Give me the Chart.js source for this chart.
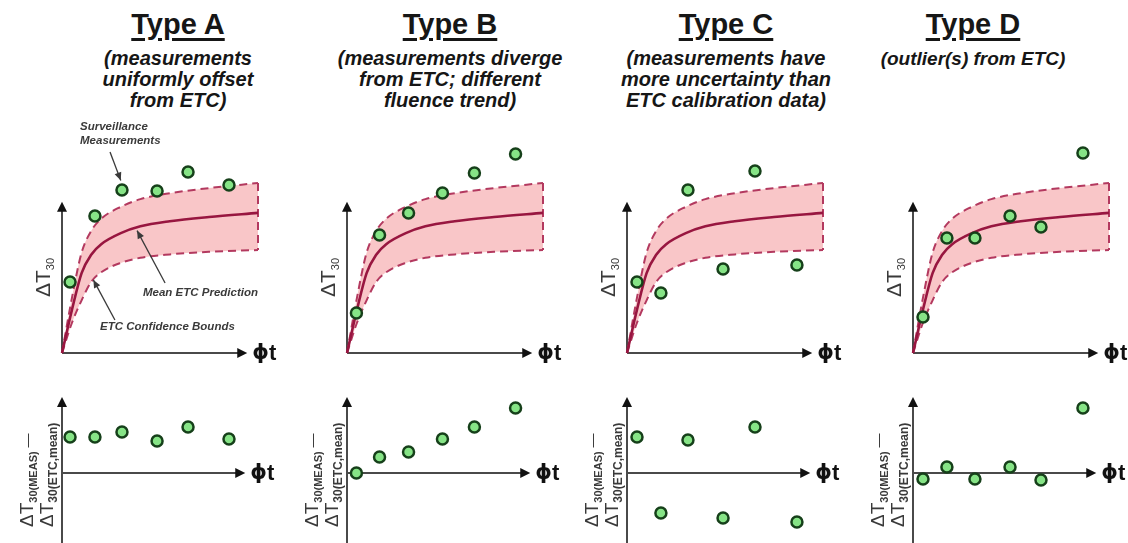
<!DOCTYPE html>
<html>
<head>
<meta charset="utf-8">
<script src="https://cdn.jsdelivr.net/npm/chart.js@4.4.1/dist/chart.umd.min.js"></script>
<style>
  html, body { margin: 0; padding: 0; background: #fff; }
  #wrap { position: relative; width: 1128px; height: 543px; overflow: hidden; font-family: "Liberation Sans", Arial, sans-serif; }
  canvas { position: absolute; }
  .head { position: absolute; width: 300px; text-align: center; color: #161616; }
  .head .t { font-weight: bold; font-size: 29px; line-height: 34px; text-decoration: underline; text-decoration-thickness: 3px; text-underline-offset: 4px; }
  .head .s { font-weight: bold; font-style: italic; font-size: 20px; line-height: 21px; margin-top: 7px; }
  .head .s.short { font-size: 19px; }
</style>
</head>
<body>
<div id="wrap"></div>
<script>
// ETC curve (shared by all four panels), x in fluence units, y in ΔT30 units
var etcX     = [0, 0.5, 1, 1.5, 2, 3, 4, 5.5, 7.5, 10];
var etcUpper = [0, 3.2, 5.9, 7.2, 7.9, 8.6, 9.05, 9.4, 9.7, 10];
var etcMean  = [0, 2.5, 4.7, 5.8, 6.4, 7.05, 7.45, 7.75, 8.0, 8.24];
var etcLower = [0, 1.75, 3.1, 4.2, 4.75, 5.3, 5.6, 5.8, 5.95, 6.06];

// surveillance measurements per type
var typeA_x     = [0.41, 1.68, 3.06, 4.85, 6.43, 8.52];
var typeA_meas  = [4.18, 8.06, 9.59, 9.53, 10.65, 9.88];
var typeA_resid = [2.12, 2.12, 2.41, 1.88, 2.71, 2.0];

var typeB_x     = [0.48, 1.66, 3.14, 4.87, 6.5, 8.6];
var typeB_meas  = [2.35, 6.94, 8.24, 9.41, 10.59, 11.71];
var typeB_resid = [0, 0.94, 1.24, 2.0, 2.71, 3.82];

var typeC_x     = [0.51, 1.73, 3.11, 4.9, 6.53, 8.67];
var typeC_meas  = [4.18, 3.53, 9.59, 4.94, 10.71, 5.18];
var typeC_resid = [2.12, -2.35, 1.94, -2.65, 2.71, -2.88];

var typeD_x     = [0.51, 1.73, 3.16, 4.95, 6.53, 8.67];
var typeD_meas  = [2.12, 6.76, 6.76, 8.06, 7.41, 11.76];
var typeD_resid = [-0.35, 0.35, -0.35, 0.35, -0.41, 3.82];

var titles = ['Type A', 'Type B', 'Type C', 'Type D'];
var subtitles = [
    ['(measurements', 'uniformly offset', 'from ETC)'],
    ['(measurements diverge', 'from ETC; different', 'fluence trend)'],
    ['(measurements have', 'more uncertainty than', 'ETC calibration data)'],
    ['(outlier(s) from ETC)']
];

var panels = [
    { x: typeA_x, meas: typeA_meas, resid: typeA_resid },
    { x: typeB_x, meas: typeB_meas, resid: typeB_resid },
    { x: typeC_x, meas: typeC_meas, resid: typeC_resid },
    { x: typeD_x, meas: typeD_meas, resid: typeD_resid }
];

// layout
var PX_X = 19.6, PX_Y = 17;           // pixels per data unit
var originsX = [62, 347, 627, 913];
var centersX = [178, 450, 726, 973];
var topOriginY = 353, botOriginY = 473;

var ETC_DASH = '#b3395f';
var ETC_MEAN = '#981640';
var ETC_FILL = '#f9c6c8';
var PT_FILL = '#86e486';
var PT_EDGE = '#16401a';
var LABEL_FONT = '"Liberation Sans", Arial, sans-serif';

function zip(xs, ys) {
    return xs.map(function(v, i) { return { x: v, y: ys[i] }; });
}

function drawRuns(ctx, x, y, runs) {
    ctx.save();
    ctx.translate(x, y);
    ctx.rotate(-Math.PI / 2);
    var cx = 0;
    runs.forEach(function(r) {
        ctx.font = r.font;
        ctx.fillText(r.text, cx, r.dy || 0);
        cx += ctx.measureText(r.text).width;
    });
    ctx.restore();
}

function arrowHead(ctx, x, y, ang, len, half) {
    ctx.beginPath();
    ctx.moveTo(x, y);
    ctx.lineTo(x - len * Math.cos(ang) + half * Math.sin(ang), y - len * Math.sin(ang) - half * Math.cos(ang));
    ctx.lineTo(x - len * Math.cos(ang) - half * Math.sin(ang), y - len * Math.sin(ang) + half * Math.cos(ang));
    ctx.closePath();
    ctx.fill();
}

// axes with arrows, phi-t and rotated y title
var axesPlugin = {
    id: 'axesArrows',
    beforeDatasetsDraw: function(chart, args, opts) {
        var ctx = chart.ctx, xs = chart.scales.x, ys = chart.scales.y;
        var x0 = xs.getPixelForValue(0), y0 = ys.getPixelForValue(0);
        var xEnd = xs.getPixelForValue(opts.xEnd);
        var yEnd = ys.getPixelForValue(opts.yEnd);
        var yStart = ys.getPixelForValue(opts.yStart);
        ctx.save();
        ctx.strokeStyle = '#4a4a4a';
        ctx.lineWidth = 2;
        ctx.beginPath();
        ctx.moveTo(x0, yStart);
        ctx.lineTo(x0, yEnd + 6);
        ctx.moveTo(x0, y0);
        ctx.lineTo(xEnd - 6, y0);
        ctx.stroke();
        ctx.fillStyle = '#111';
        arrowHead(ctx, x0, yEnd, -Math.PI / 2, 10, 5);
        arrowHead(ctx, xEnd, y0, 0, 10, 5);

        ctx.fillStyle = '#111';
        ctx.font = 'bold 21px "DejaVu Sans", ' + LABEL_FONT;
        ctx.textBaseline = 'middle';
        ctx.fillText('\u03D5', xEnd + 5, y0 + 1);
        var w = ctx.measureText('\u03D5').width;
        ctx.font = 'bold 22px ' + LABEL_FONT;
        ctx.fillText('t', xEnd + 5 + w, y0 + 1);

        ctx.textBaseline = 'alphabetic';
        ctx.fillStyle = '#3a3a3a';
        if (opts.residual) {
            drawRuns(ctx, x0 - 29, y0 + 54, [
                { text: '\u0394T', font: '19px ' + LABEL_FONT },
                { text: '30(MEAS)', font: 'bold 11px ' + LABEL_FONT, dy: 4 },
                { text: ' \u2014', font: '14px ' + LABEL_FONT, dy: -1 }
            ]);
            drawRuns(ctx, x0 - 9, y0 + 54, [
                { text: '\u0394T', font: '19px ' + LABEL_FONT },
                { text: '30(ETC,mean)', font: 'bold 12px ' + LABEL_FONT, dy: 4 }
            ]);
        } else {
            drawRuns(ctx, x0 - 12, y0 - 56, [
                { text: '\u0394T', font: '21px ' + LABEL_FONT },
                { text: '30', font: '11px ' + LABEL_FONT, dy: 4 }
            ]);
        }
        ctx.restore();
    }
};

// text callouts (panel A only), positioned in data units
var notePlugin = {
    id: 'notes',
    afterDatasetsDraw: function(chart, args, opts) {
        if (!opts.items) return;
        var ctx = chart.ctx, xs = chart.scales.x, ys = chart.scales.y;
        ctx.save();
        ctx.font = 'italic bold 11.5px ' + LABEL_FONT;
        ctx.fillStyle = '#3a3a3a';
        ctx.strokeStyle = '#3a3a3a';
        ctx.lineWidth = 1.3;
        ctx.textBaseline = 'middle';
        opts.items.forEach(function(it) {
            it.lines.forEach(function(t, k) {
                ctx.fillText(t, xs.getPixelForValue(it.tx), ys.getPixelForValue(it.ty) + k * 14);
            });
            var ax = xs.getPixelForValue(it.from[0]), ay = ys.getPixelForValue(it.from[1]);
            var bx = xs.getPixelForValue(it.to[0]), by = ys.getPixelForValue(it.to[1]);
            ctx.beginPath();
            ctx.moveTo(ax, ay);
            ctx.lineTo(bx, by);
            ctx.stroke();
            arrowHead(ctx, bx, by, Math.atan2(by - ay, bx - ax), 8, 3.5);
        });
        ctx.restore();
    }
};

var notesA = [
    { lines: ['Surveillance', 'Measurements'], tx: 0.92, ty: 13.3, from: [2.45, 11.82], to: [3.0, 10.15] },
    { lines: ['Mean ETC Prediction'], tx: 4.13, ty: 3.53, from: [5.26, 4.12], to: [3.83, 7.2] },
    { lines: ['ETC Confidence Bounds'], tx: 1.94, ty: 1.53, from: [2.7, 1.94], to: [1.6, 4.3] }
];

function pointSet(xs, ys) {
    return {
        data: zip(xs, ys),
        showLine: false,
        pointRadius: 5.5,
        pointBackgroundColor: PT_FILL,
        pointBorderColor: PT_EDGE,
        pointBorderWidth: 2.5,
        order: 0
    };
}

function makeCanvas(left, top, w, h) {
    var c = document.createElement('canvas');
    c.width = w; c.height = h;
    c.style.left = left + 'px';
    c.style.top = top + 'px';
    c.style.width = w + 'px';
    c.style.height = h + 'px';
    document.getElementById('wrap').appendChild(c);
    return c;
}

function baseOptions(xmin, xmax, ymin, ymax, axes, notes) {
    return {
        responsive: false,
        animation: false,
        devicePixelRatio: 1,
        events: [],
        layout: { padding: 0, autoPadding: false },
        plugins: {
            legend: { display: false },
            tooltip: { enabled: false },
            filler: { drawTime: 'beforeDatasetsDraw' },
            axesArrows: axes,
            notes: { items: notes }
        },
        scales: {
            x: { type: 'linear', display: false, min: xmin, max: xmax },
            y: { type: 'linear', display: false, min: ymin, max: ymax }
        }
    };
}

var wrap = document.getElementById('wrap');

panels.forEach(function(p, i) {
    // headings
    var head = document.createElement('div');
    head.className = 'head';
    head.style.left = (centersX[i] - 150) + 'px';
    head.style.top = '7px';
    head.innerHTML = '<div class="t">' + titles[i] + '</div><div class="s' + (subtitles[i].length === 1 ? ' short' : '') + '">' +
        subtitles[i].join('<br>') + '</div>';
    wrap.appendChild(head);

    var ox = originsX[i];

    // top: ETC band + measurements
    var tl = ox - 40, tt = 110, tw = 265, th = 260;
    var topCanvas = makeCanvas(tl, tt, tw, th);
    var lastI = etcX.length - 1;
    new Chart(topCanvas.getContext('2d'), {
        type: 'scatter',
        data: {
            datasets: [
                {
                    data: zip(etcX, etcUpper), showLine: true, pointRadius: 0,
                    borderColor: ETC_DASH, borderWidth: 2, borderDash: [8, 5],
                    cubicInterpolationMode: 'monotone',
                    fill: '+1', backgroundColor: ETC_FILL, order: 2
                },
                {
                    data: zip(etcX, etcLower), showLine: true, pointRadius: 0,
                    borderColor: ETC_DASH, borderWidth: 2, borderDash: [8, 5],
                    cubicInterpolationMode: 'monotone', fill: false, order: 3
                },
                {
                    data: [{ x: etcX[lastI], y: etcUpper[lastI] }, { x: etcX[lastI], y: etcLower[lastI] }],
                    showLine: true, pointRadius: 0,
                    borderColor: ETC_DASH, borderWidth: 2, borderDash: [8, 5], fill: false, order: 3
                },
                {
                    data: zip(etcX, etcMean), showLine: true, pointRadius: 0,
                    borderColor: ETC_MEAN, borderWidth: 2.6,
                    cubicInterpolationMode: 'monotone', fill: false, order: 1
                },
                pointSet(p.x, p.meas)
            ]
        },
        options: baseOptions(-40 / PX_X, (tw - 40) / PX_X,
                             -(tt + th - topOriginY) / PX_Y, (topOriginY - tt) / PX_Y,
                             { xEnd: 9.45, yEnd: 8.9, yStart: 0, residual: false },
                             i === 0 ? notesA : null),
        plugins: [axesPlugin, notePlugin]
    });

    // bottom: residuals
    var bl = ox - 60, bt = 385, bw = 285, bh = 158;
    var botCanvas = makeCanvas(bl, bt, bw, bh);
    new Chart(botCanvas.getContext('2d'), {
        type: 'scatter',
        data: { datasets: [pointSet(p.x, p.resid)] },
        options: baseOptions(-60 / PX_X, (bw - 60) / PX_X,
                             -(bt + bh - botOriginY) / PX_Y, (botOriginY - bt) / PX_Y,
                             { xEnd: 9.35, yEnd: 4.47, yStart: -(bt + bh - botOriginY) / PX_Y, residual: true },
                             null),
        plugins: [axesPlugin, notePlugin]
    });
});
</script>
</body>
</html>
